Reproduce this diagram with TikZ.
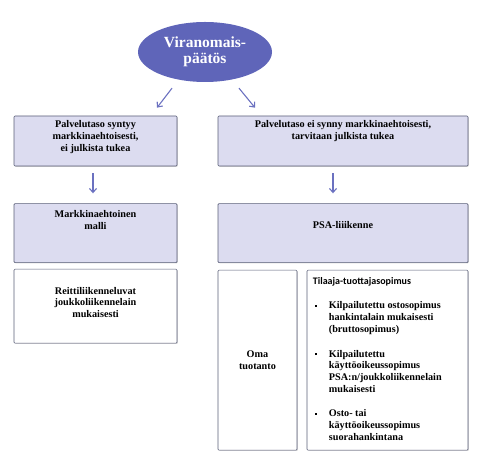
\documentclass[tikz,border=0pt]{standalone}
\usepackage{fontspec}
\setmainfont{Liberation Serif}
\newfontfamily\headfont{Carlito}
\usetikzlibrary{shapes.geometric, arrows.meta, positioning, shadows}
\definecolor{paatosblue}{HTML}{5F65B9}
\definecolor{boxlilac}{HTML}{DCDCF0}
\definecolor{boxedge}{HTML}{5A5F78}
\definecolor{arrowblue}{HTML}{6B71C0}
\newcommand{\sqbullet}{\raisebox{2pt}{\rule{2.2pt}{2.2pt}}}

\begin{document}
\begin{tikzpicture}[
    x=1pt, y=1pt,
    node distance=37pt,
    decision/.style={ellipse, fill=paatosblue, minimum width=134pt, minimum height=60pt, inner sep=0pt, align=center, text=white, font=\bfseries\fontsize{15.5}{15.5}\selectfont},
    box/.style={rectangle, rounded corners=1pt, draw=boxedge, line width=0.6pt, inner sep=0pt, align=center, font=\bfseries\fontsize{10.2}{11.7}\selectfont, drop shadow={shadow xshift=0.8pt, shadow yshift=-0.8pt, opacity=0.3}},
    boxtext/.style={inner sep=0pt, align=center, font=\bfseries\fontsize{10.2}{11.7}\selectfont},
    arrow/.style={-{Straight Barb[length=4pt, width=7pt]}, line width=1.1pt, color=arrowblue}
]
\useasboundingbox (0,0) rectangle (485,460);

\node[decision] (paatos) at (205,408) {Viranomais-\\päätös};

\node[box, fill=boxlilac, minimum width=163pt, minimum height=50pt] (palv1) at (95.5,319) {};
\node[box, fill=boxlilac, minimum width=250pt, minimum height=50pt] (palv2) at (343,319) {};
\node[box, fill=boxlilac, minimum width=163pt, minimum height=59pt, below=of palv1] (markk) {};
\node[box, fill=boxlilac, minimum width=250pt, minimum height=59pt, below=of palv2] (psa) {};
\node[box, fill=white, minimum width=163pt, minimum height=74pt, below=6pt of markk] (reitti) {};
\node[box, fill=white, minimum width=79pt, minimum height=180pt, below=7pt of psa.south west, anchor=north west] (oma) {Oma\\tuotanto};
\node[box, fill=white, minimum width=161pt, minimum height=180pt, below=7pt of psa.south east, anchor=north east] (tilaaja) {};

% texts at the top of the boxes
\node[boxtext, below=5pt of palv1.north] (palv1-t) {Palvelutaso syntyy\\markkinaehtoisesti,\\ei julkista tukea};
\node[boxtext, below=5pt of palv2.north] (palv2-t) {Palvelutaso ei synny markkinaehtoisesti,\\tarvitaan julkista tukea};
\node[boxtext, below=7pt of markk.north] (markk-t) {Markkinaehtoinen\\malli};
\node[boxtext, below=18pt of psa.north] (psa-t) {PSA-liiikenne};
\node[boxtext, below=18pt of reitti.north] (reitti-t) {Reittiliikenneluvat\\joukkoliikennelain\\mukaisesti};
\node[boxtext, align=left, anchor=north west] (tilaaja-t) at ([shift={(6,-6)}]tilaaja.north west) {%
  \begin{tabular}{@{\hspace{2pt}}p{14pt}@{}l@{}}
  \multicolumn{2}{@{}l}{\headfont\fontsize{10}{12}\selectfont Tilaaja-tuottajasopimus}\\[13pt]
  \sqbullet & Kilpailutettu ostosopimus\\
            & hankintalain mukaisesti\\
            & (bruttosopimus)\\[13pt]
  \sqbullet & Kilpailutettu\\
            & käyttöoikeussopimus\\
            & PSA:n/joukkoliikennelain\\
            & mukaisesti\\[13pt]
  \sqbullet & Osto- tai\\
            & käyttöoikeussopimus\\
            & suorahankintana
  \end{tabular}};

\draw[arrow] ([shift={(-33,-6)}]paatos.south) -- ([shift={(61.5,8)}]palv1.north);
\draw[arrow] ([shift={(34,-6)}]paatos.south) -- ([shift={(-88,8)}]palv2.north);
\draw[arrow, shorten <=7pt, shorten >=10pt] ([xshift=-2.5pt]palv1.south) -- ([xshift=-2.5pt]markk.north);
\draw[arrow, shorten <=7pt, shorten >=10pt] ([xshift=-10pt]palv2.south) -- ([xshift=-10pt]psa.north);
\end{tikzpicture}
\end{document}
